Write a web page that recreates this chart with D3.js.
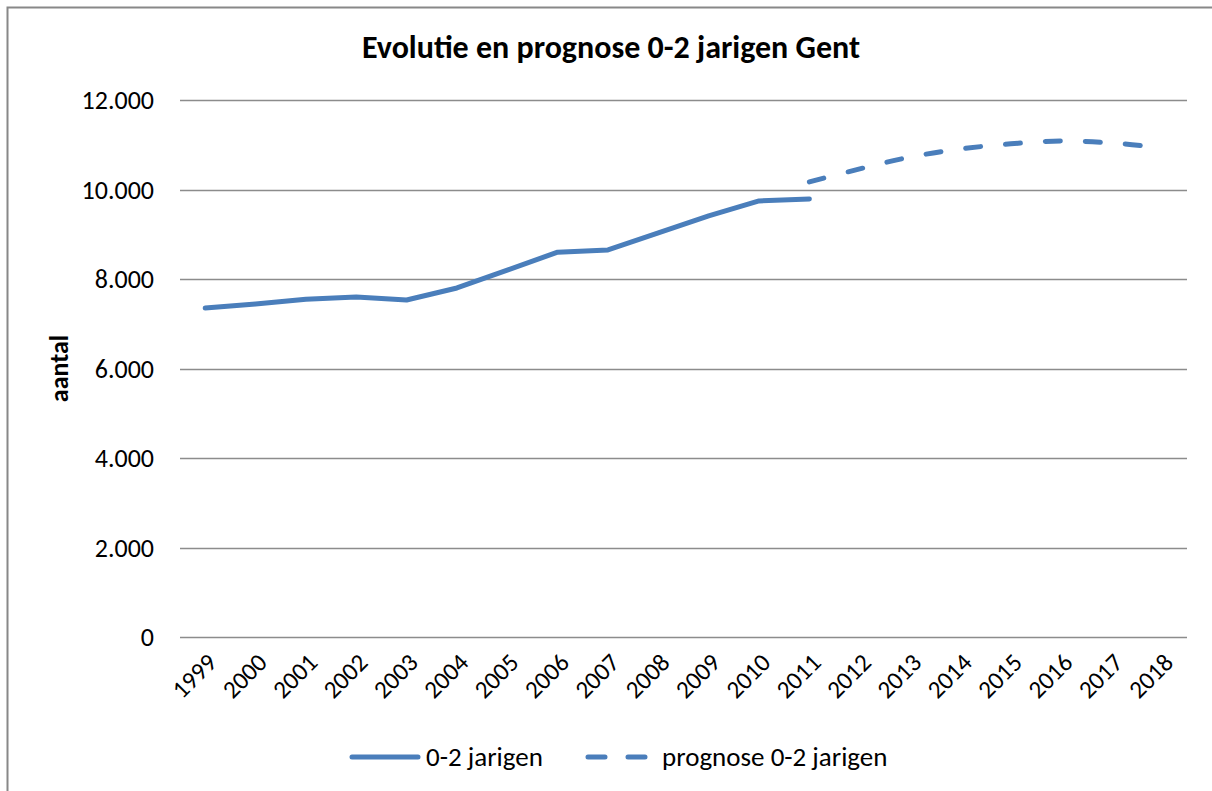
<!DOCTYPE html>
<html>
<head>
<meta charset="utf-8">
<script src="https://cdn.jsdelivr.net/npm/d3@7"></script>
<style>
  body { margin: 0; background: #fff; }
  text { font-family: Carlito, Lato, "Liberation Sans", sans-serif; fill: #000; }
</style>
</head>
<body>
<svg id="chart" width="1212" height="791"></svg>
<script>
// years on the category axis
let years = ['1999', '2000', '2001', '2002', '2003', '2004', '2005', '2006', '2007', '2008',
  '2009', '2010', '2011', '2012', '2013', '2014', '2015', '2016', '2017', '2018'];

// observed 0-2 year olds (1999-2011)
let observed = [7350, 7440, 7550, 7600, 7530, 7800, 8200, 8600, 8650, 9030, 9410, 9745, 9790];
// forecast (2011-2018)
let forecastYears = ['2011', '2012', '2013', '2014', '2015', '2016', '2017', '2018'];
let forecast = [10170, 10460, 10725, 10905, 11020, 11085, 11040, 10930];

let yTicks = [0, 2000, 4000, 6000, 8000, 10000, 12000];

let blue = '#4a7ebb';
let svg = d3.select('#chart');

let plotLeft = 180, plotRight = 1187, plotTop = 100, plotBottom = 637;

let x = d3.scaleBand().domain(years).range([plotLeft, plotRight]);
let y = d3.scaleLinear().domain([0, 12000]).range([plotBottom, plotTop]);
let cx = (d) => x(d) + x.bandwidth() / 2;

// chart border
svg.append('rect')
  .attr('x', 7.5).attr('y', 7.5)
  .attr('width', 1220).attr('height', 800)
  .attr('fill', 'none')
  .attr('stroke', '#888').attr('stroke-width', 2);

// gridlines
svg.append('g')
  .selectAll('line')
  .data(yTicks)
  .join('line')
  .attr('x1', plotLeft).attr('x2', plotRight)
  .attr('y1', (d) => Math.round(y(d)) + 0.5)
  .attr('y2', (d) => Math.round(y(d)) + 0.5)
  .attr('stroke', '#8c8c8c').attr('stroke-width', 1.5);

// y tick labels
let fmt = (d) => d3.format(',')(d).replace(/,/g, '.');
svg.append('g')
  .selectAll('text')
  .data(yTicks)
  .join('text')
  .attr('x', 154)
  .attr('y', (d) => y(d))
  .attr('dy', '0.35em')
  .attr('text-anchor', 'end')
  .style('font-size', '26px')
  .text(fmt);

// x tick labels, rotated
svg.append('g')
  .selectAll('text')
  .data(years)
  .join('text')
  .attr('transform', (d) => `translate(${cx(d) + 13},${plotBottom + 27}) rotate(-45)`)
  .attr('text-anchor', 'end')
  .style('font-size', '25px')
  .text((d) => d);

// title
svg.append('text')
  .attr('x', 611).attr('y', 58)
  .attr('text-anchor', 'middle')
  .style('font-size', '32px')
  .style('font-weight', 'bold')
  .text('Evolutie en prognose 0-2 jarigen Gent');

// axis title
svg.append('text')
  .attr('transform', `translate(68,${(plotTop + plotBottom) / 2}) rotate(-90)`)
  .attr('text-anchor', 'middle')
  .style('font-size', '26px')
  .style('font-weight', 'bold')
  .text('aantal');

// observed line
let line = d3.line().x((d) => cx(d[0])).y((d) => y(d[1]));
svg.append('path')
  .datum(observed.map((v, i) => [years[i], v]))
  .attr('d', line)
  .attr('fill', 'none')
  .attr('stroke', blue)
  .attr('stroke-width', 5)
  .attr('stroke-linecap', 'round')
  .attr('stroke-linejoin', 'round');

// forecast line (smoothed, dashed)
let smooth = d3.line().curve(d3.curveCatmullRom.alpha(0.5))
  .x((d) => cx(d[0])).y((d) => y(d[1]));
svg.append('path')
  .datum(forecast.map((v, i) => [forecastYears[i], v]))
  .attr('d', smooth)
  .attr('fill', 'none')
  .attr('stroke', blue)
  .attr('stroke-width', 5)
  .attr('stroke-dasharray', '15,25')
  .attr('stroke-linecap', 'round');

// legend
let legend = svg.append('g');
legend.append('line')
  .attr('x1', 352).attr('x2', 418).attr('y1', 757).attr('y2', 757)
  .attr('stroke', blue).attr('stroke-width', 5).attr('stroke-linecap', 'round');
legend.append('text')
  .attr('x', 426).attr('y', 757).attr('dy', '0.35em')
  .style('font-size', '27px')
  .text('0-2 jarigen');
legend.append('line')
  .attr('x1', 588).attr('x2', 646).attr('y1', 757).attr('y2', 757)
  .attr('stroke', blue).attr('stroke-width', 5).attr('stroke-linecap', 'round')
  .attr('stroke-dasharray', '17,23');
legend.append('text')
  .attr('x', 662).attr('y', 757).attr('dy', '0.35em')
  .style('font-size', '27px')
  .text('prognose 0-2 jarigen');
</script>
</body>
</html>
